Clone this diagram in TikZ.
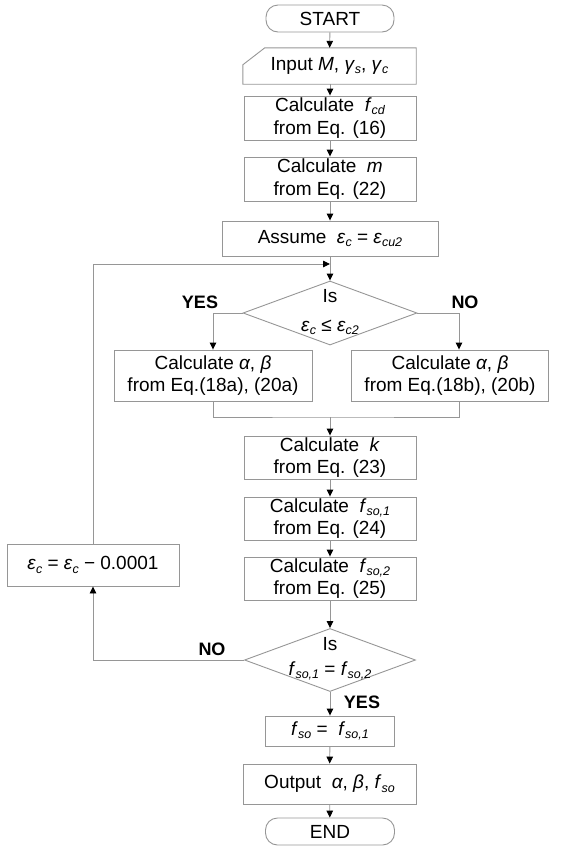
\documentclass[tikz,border=0pt]{standalone}
\usepackage{fontspec}
\setmainfont{Liberation Sans}
\usetikzlibrary{arrows.meta,shapes.geometric,calc}
\definecolor{linegray}{RGB}{150,150,150}
\newcommand\sbs[1]{\raisebox{-0.17em}{\fontsize{12.5}{12.5}\selectfont\itshape #1}}
\newcommand\vv[1]{\textit{#1}}
\tikzset{
  txt/.style={font=\fontsize{19}{22.5}\selectfont, align=center, inner sep=0pt},
  box/.style={txt, draw=linegray, line width=0.9pt, rectangle},
  term/.style={box, rounded corners=12pt},
  dia/.style={diamond, draw=linegray, line width=0.9pt, inner sep=0pt, aspect=2.7},
  lbl/.style={font=\fontsize{18}{20}\selectfont\bfseries, inner sep=0pt},
  conn/.style={draw=linegray, line width=0.9pt},
  arr/.style={conn, -{Triangle[length=7pt,width=6.5pt,color=black,fill=black]}},
}
\begin{document}
\begin{tikzpicture}[x=1pt,y=-1pt]
\useasboundingbox (0,0) rectangle (564,847);
% main column
\node[term, minimum width=128pt, minimum height=27pt] (start) at (330,18.5) {START};
\node[txt, minimum width=173pt, minimum height=36pt] (in) at (329.5,66) {Input \vv{M}, \vv{γ}\sbs{s}, \vv{γ}\sbs{c}};
\draw[linegray, line width=0.9pt] (in.south west) -- (in.south east) -- (in.north east)
   -- ([xshift=22pt]in.north west) -- ([yshift=-17pt]in.north west) -- cycle;
\node[box, minimum width=172pt, minimum height=44pt] (fcd) at (330,118) {Calculate \ \vv{f}\sbs{cd}\\from Eq. (16)};
\node[box, minimum width=172pt, minimum height=44pt] (m) at (330,179) {Calculate \ \vv{m}\\from Eq. (22)};
\node[box, minimum width=216pt, minimum height=35pt] (as) at (330,238.5) {Assume \ \vv{ε}\sbs{c} = \vv{ε}\sbs{cu2}};
\coordinate (lj) at (330,264);
\node[dia, minimum width=174pt, minimum height=64pt] (d1) at (330,313) {};
\node[txt, font=\fontsize{19}{29}\selectfont] (d1t) at (330,312) {Is\\\vv{ε}\sbs{c} ≤ \vv{ε}\sbs{c2}};
\node[lbl] (yes1) at (200,302) {YES};
\node[lbl] (no1) at (465,302) {NO};
\node[box, minimum width=198pt, minimum height=51pt] (lb) at (213,375.5) {Calculate \vv{α}, \vv{β}\\from Eq.(18a), (20a)};
\node[box, minimum width=197pt, minimum height=51pt] (rb) at (450,375.5) {Calculate \vv{α}, \vv{β}\\from Eq.(18b), (20b)};
\coordinate (mj) at (330,417);
\node[box, minimum width=172pt, minimum height=43pt] (k) at (330,457.5) {Calculate \ \vv{k}\\from Eq. (23)};
\node[box, minimum width=172pt, minimum height=43pt] (f1) at (330,518.5) {Calculate \ \vv{f}\sbs{so,1}\\from Eq. (24)};
\node[box, minimum width=172pt, minimum height=43pt] (f2) at (330,578.5) {Calculate \ \vv{f}\sbs{so,2}\\from Eq. (25)};
\node[box, minimum width=172pt, minimum height=42pt] (eps) at (93,565) {\vv{ε}\sbs{c} = \vv{ε}\sbs{c} − 0.0001};
\node[dia, minimum width=171pt, minimum height=63pt] (d2) at (330,660) {};
\node[txt, font=\fontsize{19}{25}\selectfont] (d2t) at (330,659) {Is\\\vv{f}\sbs{so,1} = \vv{f}\sbs{so,2}};
\node[lbl] (no2) at (212,649) {NO};
\node[lbl] (yes2) at (362,702) {YES};
\node[box, minimum width=129pt, minimum height=30pt] (fso) at (330,731) {\vv{f}\sbs{so} = \ \vv{f}\sbs{so,1}};
\node[box, minimum width=173pt, minimum height=40pt] (out) at (329.5,784) {Output \ \vv{α}, \vv{β}, \vv{f}\sbs{so}};
\node[term, minimum width=129pt, minimum height=27pt] (end) at (330,831.5) {END};
% connectors
\draw[arr] (start) -- (in);
\draw[arr] (in.south -| fcd.north) -- (fcd);
\draw[arr] (fcd) -- (m);
\draw[arr] (m) -- (as);
\draw[arr] (as) -- (d1);
\draw[arr] (eps.north) |- (lj);
\draw[arr] (d1.west) -| (lb.north);
\draw[arr] (d1.east) -| ([xshift=9pt]rb.north);
\draw[conn] (lb.south) |- (mj) -| ([xshift=9pt]rb.south);
\draw[arr] (mj) -- (k);
\draw[arr] (k) -- (f1);
\draw[arr] (f1) -- (f2);
\draw[arr] (f2) -- (d2);
\draw[arr] (d2.west) -| (eps.south);
\draw[arr] (d2) -- (fso);
\draw[arr] (fso) -- (out);
\draw[arr] (out) -- (end);
\end{tikzpicture}
\end{document}
